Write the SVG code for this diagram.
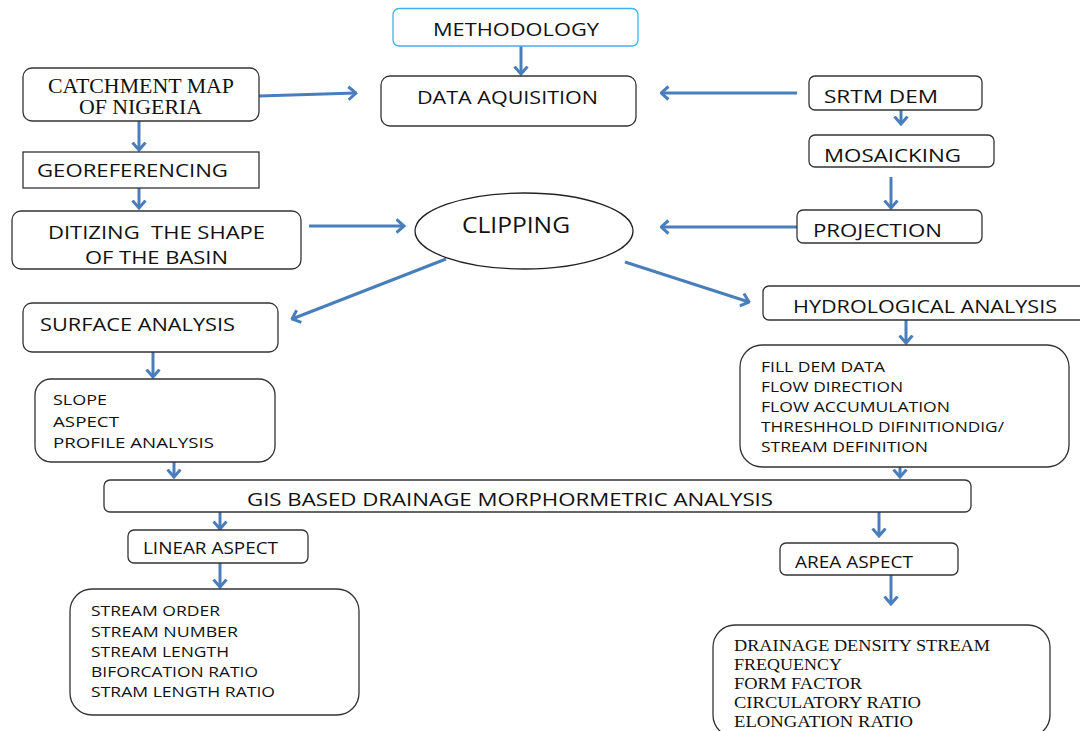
<svg xmlns="http://www.w3.org/2000/svg" width="1080" height="731" viewBox="0 0 1080 731">
<style>
.box{fill:#fff;stroke:#333;stroke-width:1.3}
.t{font-family:"Open Sans",Lato,sans-serif;fill:#111}
.s{font-family:"Liberation Serif","Times New Roman",serif;fill:#111}
.c{fill:none;stroke:#4a7ebb;stroke-width:3;marker-end:url(#ah)}
</style>
<defs>
<marker id="ah" markerUnits="userSpaceOnUse" viewBox="0 0 10 16" markerWidth="10" markerHeight="16" refX="8.5" refY="8" orient="auto">
<path d="M1,1.5 L8.5,8 L1,14.5" fill="none" stroke="#4a7ebb" stroke-width="3" stroke-linejoin="miter"/>
</marker>
</defs>
<rect width="1080" height="731" fill="#fff"/>

<g id="connectors">
<path class="c" d="M521,46 V74"/>
<path class="c" d="M259,96 L356,93"/>
<path class="c" d="M797,93 H661"/>
<path class="c" d="M139,121 V150"/>
<path class="c" d="M139,188 V208"/>
<path class="c" d="M901,110 V124"/>
<path class="c" d="M891,177 V208"/>
<path class="c" d="M309,226 H404"/>
<path class="c" d="M797,227 H661"/>
<path class="c" d="M446,259 L292,319"/>
<path class="c" d="M625,262 L749,302"/>
<path class="c" d="M153,352 V377"/>
<path class="c" d="M906,320 V343"/>
<path class="c" d="M174,447 V477"/>
<path class="c" d="M900,453 V477"/>
<path class="c" d="M220,512 V529"/>
<path class="c" d="M220,563 V587"/>
<path class="c" d="M879,512 V536"/>
<path class="c" d="M891,573 V604"/>
</g>

<g id="methodology">
<rect x="393" y="8.5" width="245" height="37.5" rx="6" fill="#fff" stroke="#3fb4ea" stroke-width="1.3"/>
<text class="t" x="433" y="36" font-size="19" textLength="166" lengthAdjust="spacingAndGlyphs">METHODOLOGY</text>
</g>
<g id="data-aquisition">
<rect class="box" x="381" y="76" width="255" height="50" rx="9"/>
<text class="t" x="417" y="104" font-size="19" textLength="181" lengthAdjust="spacingAndGlyphs">DATA AQUISITION</text>
</g>
<g id="catchment">
<rect class="box" x="23" y="68" width="236" height="53" rx="9"/>
<text class="s" x="48" y="93" font-size="20" textLength="186" lengthAdjust="spacingAndGlyphs">CATCHMENT MAP</text>
<text class="s" x="79" y="114" font-size="20" textLength="123" lengthAdjust="spacingAndGlyphs">OF NIGERIA</text>
</g>
<g id="georeferencing">
<rect class="box" x="23" y="152" width="236" height="36"/>
<text class="t" x="37" y="177" font-size="19" textLength="191" lengthAdjust="spacingAndGlyphs">GEOREFERENCING</text>
</g>
<g id="ditizing">
<rect class="box" x="12" y="211" width="289" height="58" rx="9"/>
<text class="t" x="48" y="239" font-size="19" textLength="217" lengthAdjust="spacingAndGlyphs" xml:space="preserve">DITIZING  THE SHAPE</text>
<text class="t" x="85" y="264" font-size="19" textLength="143" lengthAdjust="spacingAndGlyphs">OF THE BASIN</text>
</g>
<g id="clipping">
<ellipse cx="524" cy="231" rx="109" ry="38" fill="#fff" stroke="#222" stroke-width="1.3"/>
<text class="t" x="462" y="233" font-size="21" textLength="108" lengthAdjust="spacingAndGlyphs">CLIPPING</text>
</g>
<g id="srtm-dem">
<rect class="box" x="809" y="76" width="173" height="34" rx="6"/>
<text class="t" x="824" y="103" font-size="19" textLength="114" lengthAdjust="spacingAndGlyphs">SRTM DEM</text>
</g>
<g id="mosaicking">
<rect class="box" x="809" y="135" width="185" height="32" rx="6"/>
<text class="t" x="824" y="162" font-size="19" textLength="137" lengthAdjust="spacingAndGlyphs">MOSAICKING</text>
</g>
<g id="projection">
<rect class="box" x="797" y="210" width="185" height="33" rx="6"/>
<text class="t" x="813" y="237" font-size="19" textLength="129" lengthAdjust="spacingAndGlyphs">PROJECTION</text>
</g>
<g id="surface-analysis">
<rect class="box" x="23" y="303" width="255" height="49" rx="9"/>
<text class="t" x="40" y="331" font-size="18" textLength="195" lengthAdjust="spacingAndGlyphs">SURFACE ANALYSIS</text>
</g>
<g id="surface-items">
<rect class="box" x="35" y="379" width="240" height="83" rx="16"/>
<text class="t" x="53" y="405" font-size="15" textLength="54" lengthAdjust="spacingAndGlyphs">SLOPE</text>
<text class="t" x="53" y="427" font-size="15" textLength="66" lengthAdjust="spacingAndGlyphs">ASPECT</text>
<text class="t" x="53" y="448" font-size="15" textLength="161" lengthAdjust="spacingAndGlyphs">PROFILE ANALYSIS</text>
</g>
<g id="hydrological-analysis">
<rect class="box" x="763" y="286" width="325" height="34" rx="6"/>
<text class="t" x="793" y="313" font-size="19" textLength="264" lengthAdjust="spacingAndGlyphs">HYDROLOGICAL ANALYSIS</text>
</g>
<g id="hydro-items">
<rect class="box" x="740" y="345" width="329" height="122" rx="22"/>
<text class="t" x="761" y="372" font-size="14.5" textLength="124" lengthAdjust="spacingAndGlyphs">FILL DEM DATA</text>
<text class="t" x="761" y="392" font-size="14.5" textLength="142" lengthAdjust="spacingAndGlyphs">FLOW DIRECTION</text>
<text class="t" x="761" y="412" font-size="14.5" textLength="189" lengthAdjust="spacingAndGlyphs">FLOW ACCUMULATION</text>
<text class="t" x="761" y="432" font-size="14.5" textLength="243" lengthAdjust="spacingAndGlyphs">THRESHHOLD DIFINITIONDIG/</text>
<text class="t" x="761" y="452" font-size="14.5" textLength="167" lengthAdjust="spacingAndGlyphs">STREAM DEFINITION</text>
</g>
<g id="gis-analysis">
<rect class="box" x="104" y="480" width="867" height="32" rx="6"/>
<text class="t" x="247" y="506" font-size="19" textLength="526" lengthAdjust="spacingAndGlyphs">GIS BASED DRAINAGE MORPHORMETRIC ANALYSIS</text>
</g>
<g id="linear-aspect">
<rect class="box" x="128" y="530" width="180" height="33" rx="6"/>
<text class="t" x="143" y="554" font-size="15.5" textLength="135" lengthAdjust="spacingAndGlyphs">LINEAR ASPECT</text>
</g>
<g id="linear-items">
<rect class="box" x="70" y="589" width="289" height="126" rx="22"/>
<text class="t" x="91" y="616" font-size="15" textLength="129" lengthAdjust="spacingAndGlyphs">STREAM ORDER</text>
<text class="t" x="91" y="637" font-size="15" textLength="147" lengthAdjust="spacingAndGlyphs">STREAM NUMBER</text>
<text class="t" x="91" y="657" font-size="15" textLength="138" lengthAdjust="spacingAndGlyphs">STREAM LENGTH</text>
<text class="t" x="91" y="677" font-size="15" textLength="167" lengthAdjust="spacingAndGlyphs">BIFORCATION RATIO</text>
<text class="t" x="91" y="697" font-size="15" textLength="184" lengthAdjust="spacingAndGlyphs">STRAM LENGTH RATIO</text>
</g>
<g id="area-aspect">
<rect class="box" x="780" y="543" width="178" height="32" rx="6"/>
<text class="t" x="795" y="568" font-size="15.5" textLength="118" lengthAdjust="spacingAndGlyphs">AREA ASPECT</text>
</g>
<g id="area-items">
<rect class="box" x="713" y="625" width="337" height="112" rx="22"/>
<text class="s" x="734" y="651" font-size="17.5" textLength="256" lengthAdjust="spacingAndGlyphs">DRAINAGE DENSITY STREAM</text>
<text class="s" x="734" y="670" font-size="17.5" textLength="108" lengthAdjust="spacingAndGlyphs">FREQUENCY</text>
<text class="s" x="734" y="689" font-size="17.5" textLength="128" lengthAdjust="spacingAndGlyphs">FORM FACTOR</text>
<text class="s" x="734" y="708" font-size="17.5" textLength="187" lengthAdjust="spacingAndGlyphs">CIRCULATORY RATIO</text>
<text class="s" x="734" y="727" font-size="17.5" textLength="179" lengthAdjust="spacingAndGlyphs">ELONGATION RATIO</text>
</g>
</svg>
